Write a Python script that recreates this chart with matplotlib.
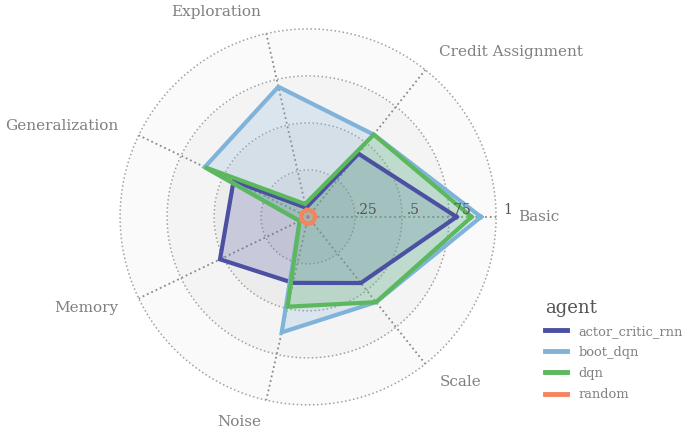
import numpy as np
import matplotlib.pyplot as plt
from matplotlib.lines import Line2D

# Data
categories = ["Basic", "Credit Assignment", "Exploration", "Generalization",
              "Memory", "Noise", "Scale"]
agents = ["actor_critic_rnn", "boot_dqn", "dqn", "random"]
actor_critic_rnn = [0.79, 0.43, 0.05, 0.44, 0.52, 0.36, 0.45]
boot_dqn = [0.92, 0.56, 0.71, 0.61, 0.05, 0.63, 0.58]
dqn = [0.87, 0.56, 0.07, 0.61, 0.05, 0.49, 0.58]
random_agent = [0.04, 0.04, 0.04, 0.04, 0.04, 0.04, 0.04]
agent_colors = ["#4b50a2", "#80b3da", "#5cb85c", "#f4845f"]

ring_levels = [0.25, 0.5, 0.75, 1.0]
ring_labels = [".25", ".5", ".75", "1"]
ring_colors = ["#e4e4e4", "#ececec", "#f4f4f4", "#fafafa"]

serif = "DejaVu Serif"

fig = plt.figure(figsize=(6.9, 4.28), dpi=100)
ax = fig.add_axes([0.174, 0.054, 0.545, 0.8785], projection="polar")
ax.set_ylim(0, 1)
ax.set_xticks([])
ax.set_yticks([])
ax.grid(False)
ax.spines["polar"].set_visible(False)
ax.patch.set_alpha(0)

angles = np.linspace(0, 2 * np.pi, len(categories), endpoint=False)
full = np.linspace(0, 2 * np.pi, 361)

# background rings
lo = 0
for r, c in zip(ring_levels, ring_colors):
    ax.fill_between(full, lo, r, color=c, lw=0, zorder=0)
    lo = r
for r in ring_levels:
    ax.plot(full, np.full_like(full, r), ls=":", color="#a0a0a0", lw=1.1,
            zorder=1, clip_on=False)
for a in angles:
    ax.plot([a, a], [0, 1], ls=":", color="#8a8a8a", lw=1.3, zorder=1, clip_on=False)

# agent polygons
series = [actor_critic_rnn, boot_dqn, dqn, random_agent]
closed = np.append(angles, angles[0])
for name, vals, c in zip(agents, series, agent_colors):
    v = np.append(vals, vals[0])
    ax.fill(closed, v, color=c, alpha=0.22, lw=0, zorder=2)
    ax.plot(closed, v, color=c, lw=3, zorder=3, solid_joinstyle="miter")

# radial labels
for r, lab in zip(ring_levels, ring_labels):
    ax.text(0, r + 0.06, lab, ha="center", va="bottom", fontsize=10,
            family=serif, color="#555555", zorder=4, clip_on=False)

# category labels
for a, cat in zip(angles, categories):
    ha = "left" if np.cos(a) > 0.01 else "right"
    ax.text(a, 1.12, cat, ha=ha, va="center", fontsize=11, family=serif,
            color="#808080", clip_on=False)

handles = [Line2D([0], [0], color=c, lw=3.5) for c in agent_colors]
leg = fig.legend(handles, agents, loc="upper left",
                 bbox_to_anchor=(533 / 690, 1 - 287 / 428), frameon=False,
                 title="agent", alignment="left", handlelength=1.7,
                 handletextpad=0.9, labelspacing=0.62,
                 prop={"family": serif, "size": 9.4})
leg.get_title().set_fontsize(13)
leg.get_title().set_family(serif)
leg.get_title().set_color("#555555")
for t in leg.get_texts():
    t.set_color("#808080")

fig.savefig("out.png", dpi=100)
